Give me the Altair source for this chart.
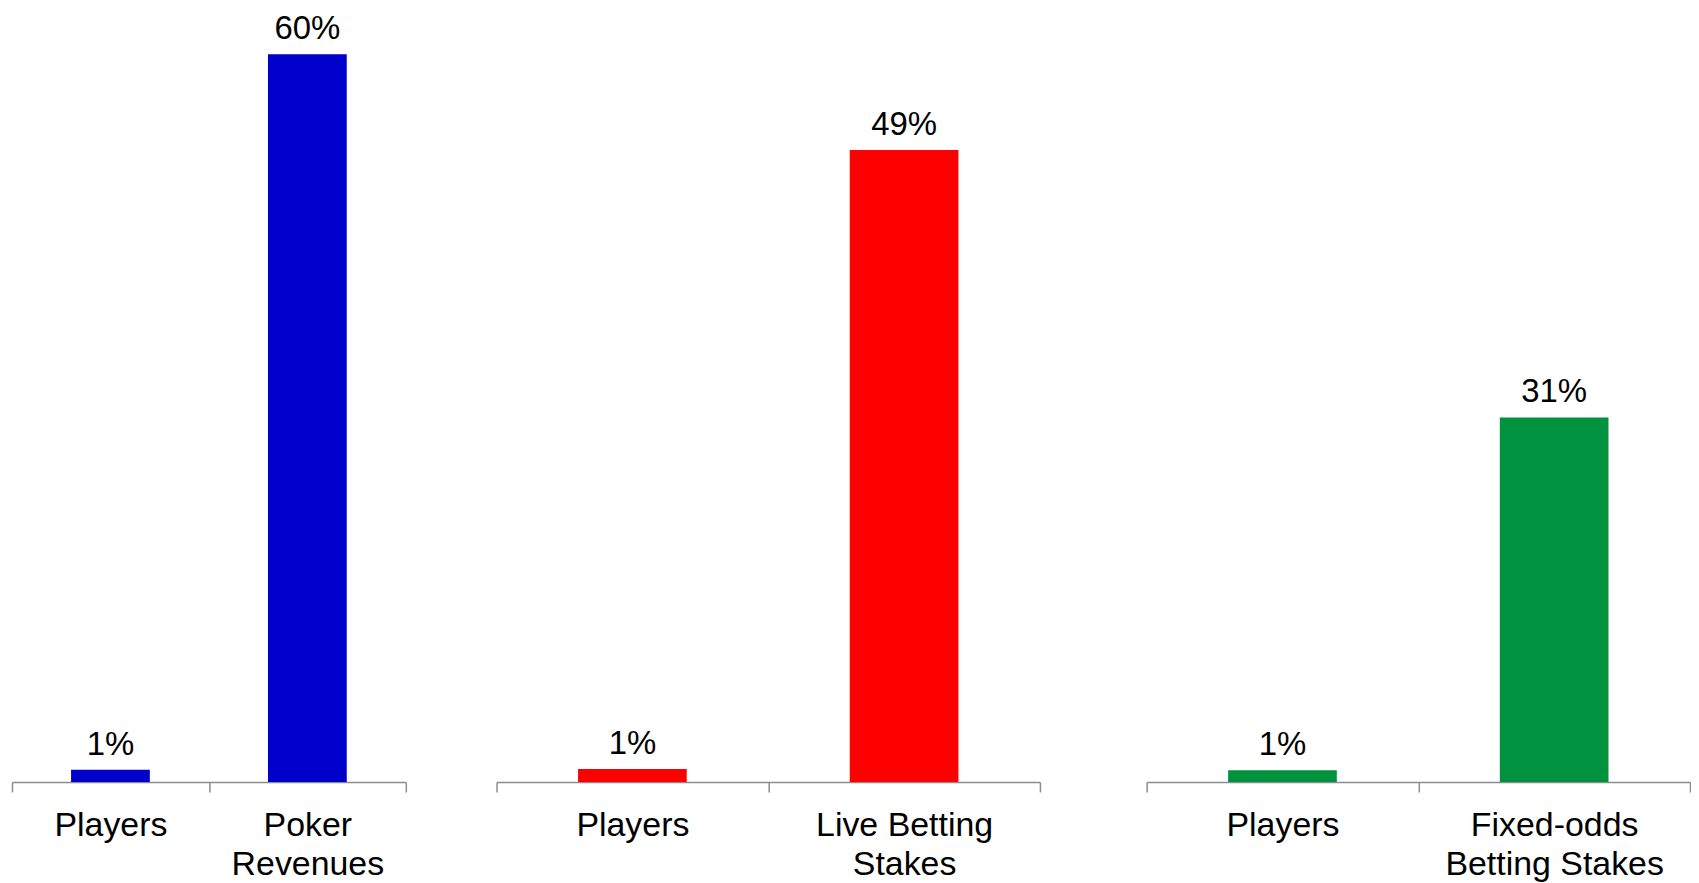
import altair as alt
import pandas as pd

# ---- data ----
panel_categories = [
    ["Players", "Poker\nRevenues"],
    ["Players", "Live Betting\nStakes"],
    ["Players", "Fixed-odds\nBetting Stakes"],
]
panel_values = [
    [1, 60],
    [1, 49],
    [1, 31],
]
panel_colors = ["#0000CC", "#FF0000", "#00923F"]
# per-panel y domain maximum (each panel has its own scale in the reference)
panel_y_max = [63.7, 59.9, 65.7]
panel_widths = [395, 545, 545]

PLOT_HEIGHT = 775
FONT = "Liberation Sans"
FONT_SIZE = 34
VALUE_FONT_SIZE = 33
AXIS_COLOR = "#8C8C8C"


def panel(i):
    df = pd.DataFrame({"category": panel_categories[i], "value": panel_values[i]})
    base = alt.Chart(df).encode(
        x=alt.X(
            "category:N",
            sort=None,
            scale=alt.Scale(paddingInner=0, paddingOuter=0),
            axis=alt.Axis(
                title=None,
                labelAngle=0,
                tickBand="extent",
                labelExpr="split(datum.label, '\\n')",
                labelFont=FONT,
                labelFontSize=FONT_SIZE,
                labelColor="black",
                labelLineHeight=39,
                labelPadding=17,
                labelLimit=500,
                labelOverlap=False,
                domainColor=AXIS_COLOR,
                domainWidth=1.5,
                tickColor=AXIS_COLOR,
                tickWidth=1.5,
                tickSize=10,
                grid=False,
            ),
        ),
        y=alt.Y(
            "value:Q",
            scale=alt.Scale(domain=[0, panel_y_max[i]], nice=False, zero=True),
            axis=None,
        ),
    )
    bars = base.mark_bar(width=alt.RelativeBandSize(0.4), color=panel_colors[i])
    labels = (
        base.transform_calculate(label="format(datum.value, 'd') + '%'")
        .mark_text(
            dy=-15,
            baseline="alphabetic",
            align="center",
            font=FONT,
            fontSize=VALUE_FONT_SIZE,
            color="black",
        )
        .encode(text="label:N")
    )
    return alt.layer(bars, labels).properties(width=panel_widths[i], height=PLOT_HEIGHT)


chart = (
    alt.hconcat(
        alt.hconcat(panel(0), panel(1), spacing=89),
        panel(2),
        spacing=105,
    )
    .properties(padding={"left": 3, "top": 0, "right": 0, "bottom": 0}, background="white")
    .configure_view(stroke=None)
)

chart.save("out.html", embed_options={"renderer": "svg", "actions": False})
